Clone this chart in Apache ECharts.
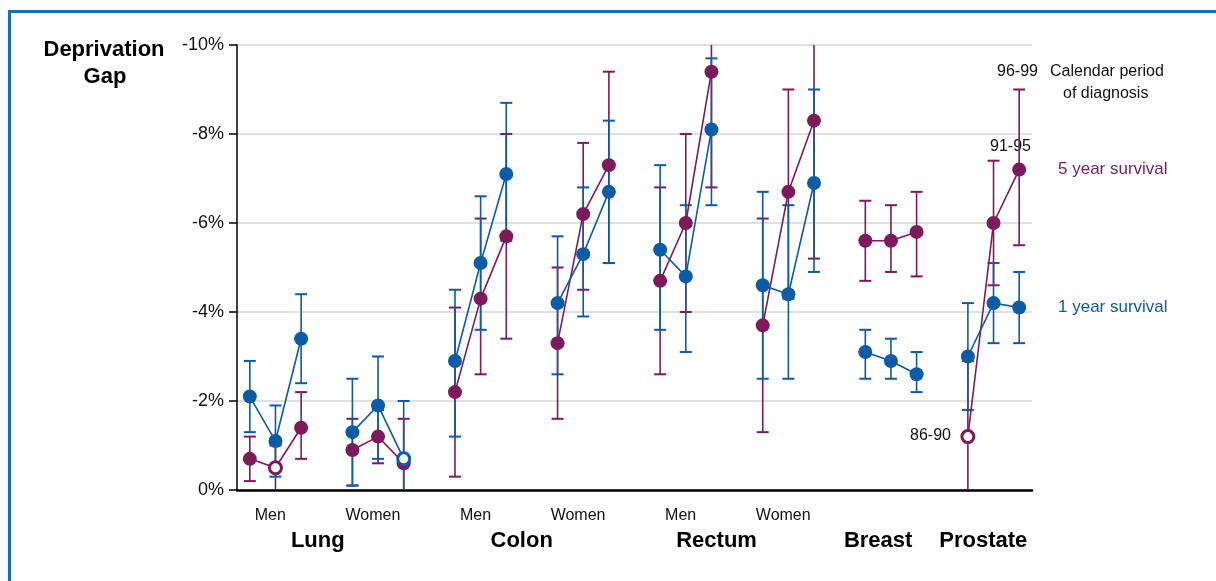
<!DOCTYPE html>
<html>
<head>
<meta charset="utf-8">
<script src="https://cdn.jsdelivr.net/npm/echarts@6/dist/echarts.min.js"></script>
<style>
html,body{margin:0;padding:0;background:#fff;}
#main{width:1216px;height:581px;}
</style>
</head>
<body>
<div id="main"></div>
<script>
// ---------- data ----------
const groups = ['Lung Men','Lung Women','Colon Men','Colon Women','Rectum Men','Rectum Women','Breast','Prostate'];
const periods = ['86-90','91-95','96-99'];
const sexLabels = ['Men','Women','Men','Women','Men','Women'];
const siteLabels = ['Lung','Colon','Rectum','Breast','Prostate'];
const yTicks = [-10,-8,-6,-4,-2,0];

// 1 year survival deprivation gap (%) per group x period
const oneYear    = [-2.1,-1.1,-3.4, -1.3,-1.9,-0.7, -2.9,-5.1,-7.1, -4.2,-5.3,-6.7, -5.4,-4.8,-8.1, -4.6,-4.4,-6.9, -3.1,-2.9,-2.6, -3.0,-4.2,-4.1];
const oneYearHi  = [-2.9,-1.9,-4.4, -2.5,-3.0,-2.0, -4.5,-6.6,-8.7, -5.7,-6.8,-8.3, -7.3,-6.4,-9.7, -6.7,-6.4,-9.0, -3.6,-3.4,-3.1, -4.2,-5.1,-4.9];
const oneYearLo  = [-1.3,-0.3,-2.4, -0.1,-0.7, 0.6, -1.2,-3.6,-5.6, -2.6,-3.9,-5.1, -3.6,-3.1,-6.4, -2.5,-2.5,-4.9, -2.5,-2.5,-2.2, -1.8,-3.3,-3.3];
const oneYearHollow = [5];

// 5 year survival deprivation gap (%)
const fiveYear   = [-0.7,-0.5,-1.4, -0.9,-1.2,-0.6, -2.2,-4.3,-5.7, -3.3,-6.2,-7.3, -4.7,-6.0,-9.4, -3.7,-6.7,-8.3, -5.6,-5.6,-5.8, -1.2,-6.0,-7.2];
const fiveYearHi = [-1.2,-1.0,-2.2, -1.6,-1.8,-1.6, -4.1,-6.1,-8.0, -5.0,-7.8,-9.4, -6.8,-8.0,-10.6, -6.1,-9.0,-10.6, -6.5,-6.4,-6.7, -2.9,-7.4,-9.0];
const fiveYearLo = [-0.2, 0.2,-0.7, -0.1,-0.6, 0.3, -0.3,-2.6,-3.4, -1.6,-4.5,-5.1, -2.6,-4.0,-6.8, -1.3,-4.3,-5.2, -4.7,-4.9,-4.8, 0.5,-4.6,-5.5];
const fiveYearHollow = [1, 21];

// ---------- style / layout ----------
const PURPLE = '#7D1A5B';
const BLUE = '#0B5BA6';
const FONT = 'Liberation Sans, Arial, sans-serif';
const SLOT = 4; // 3 periods + 1 gap per group
const sexPos = [0.8, 4.8, 8.8, 12.8, 16.8, 20.8];
const sitePos = [2.65, 10.6, 18.2, 24.5, 28.6];

function xOf(i){ return Math.floor(i/3)*SLOT + (i%3); }

function lineData(vals, hollow, color){
  const out = [];
  vals.forEach((v,i)=>{
    const item = {value:[xOf(i), v]};
    if (hollow.indexOf(i) >= 0) {
      item.itemStyle = {color:'#fff', borderColor:color, borderWidth:3};
      item.symbolSize = 12;
    }
    out.push(item);
    if (i%3 === 2) out.push({value:[xOf(i)+1, '-']});
  });
  return out;
}
function errData(lo, hi){
  return lo.map((l,i)=>[xOf(i), l, hi[i]]);
}
function errRender(color){
  return function(params, api){
    const x = api.value(0);
    const a = api.coord([x, api.value(1)]);
    const b = api.coord([x, api.value(2)]);
    const w = 6;
    const st = {stroke: color, lineWidth: 2};
    return {type:'group', children:[
      {type:'line', shape:{x1:a[0], y1:a[1], x2:b[0], y2:b[1]}, style:{stroke:color, lineWidth:1.6}},
      {type:'line', shape:{x1:a[0]-w, y1:a[1], x2:a[0]+w, y2:a[1]}, style:st},
      {type:'line', shape:{x1:b[0]-w, y1:b[1], x2:b[0]+w, y2:b[1]}, style:st}
    ]};
  };
}

const chart = echarts.init(document.getElementById('main'), null, {renderer:'canvas'});
const option = {
  animation:false,
  backgroundColor:'#fff',
  grid:{left:237, right:184, top:45, bottom:91, containLabel:false},
  xAxis:{type:'value', min:-0.5, max:30.5, splitLine:{show:false},
     axisLine:{show:true, onZero:false, lineStyle:{color:'#000', width:2.5}},
     axisTick:{show:false}, axisLabel:{show:false}},
  yAxis:{type:'value', inverse:true, min:-10, max:0, interval:2,
    axisLine:{show:true, onZero:false, lineStyle:{color:'#000', width:1.5}},
    axisTick:{show:true, length:8, lineStyle:{color:'#000', width:1.5}},
    axisLabel:{fontFamily:FONT, fontSize:18, color:'#111', margin:13, formatter:v=> v===0 ? '0%' : v+'%'},
    splitLine:{show:true, lineStyle:{color:'#d6d6d6', width:1.5}}
  },
  series:[
    {type:'custom', name:'5 yr CI', renderItem:errRender(PURPLE), data:errData(fiveYearLo, fiveYearHi), clip:true, z:2},
    {type:'custom', name:'1 yr CI', renderItem:errRender(BLUE), data:errData(oneYearLo, oneYearHi), clip:true, z:3},
    {type:'line', name:'5 year survival', data:lineData(fiveYear, fiveYearHollow, PURPLE), symbol:'circle', symbolSize:14,
     lineStyle:{color:PURPLE, width:1.6}, itemStyle:{color:PURPLE}, connectNulls:false, z:4},
    {type:'line', name:'1 year survival', data:lineData(oneYear, oneYearHollow, BLUE), symbol:'circle', symbolSize:14,
     lineStyle:{color:BLUE, width:1.6}, itemStyle:{color:BLUE}, connectNulls:false, z:5}
  ]
};
chart.setOption(option);

// text elements (category labels positioned through the x scale)
const graphics = [
  {type:'rect', left:7, top:9, shape:{x:0,y:0,width:1400,height:800}, style:{fill:'none', stroke:'#1a6db5', lineWidth:3}, silent:true},
  {type:'text', x:104, y:50, style:{text:'Deprivation', font:'bold 22px '+FONT, fill:'#000', align:'center', verticalAlign:'middle'}},
  {type:'text', x:105, y:77, style:{text:'Gap', font:'bold 22px '+FONT, fill:'#000', align:'center', verticalAlign:'middle'}},
  {type:'text', left:997, top:64, style:{text:'96-99', font:'16px '+FONT, fill:'#111'}},
  {type:'text', left:1050, top:64, style:{text:'Calendar period', font:'16px '+FONT, fill:'#111'}},
  {type:'text', left:1063, top:86, style:{text:'of diagnosis', font:'16px '+FONT, fill:'#111'}},
  {type:'text', left:990, top:139, style:{text:'91-95', font:'16px '+FONT, fill:'#111'}},
  {type:'text', left:910, top:428, style:{text:'86-90', font:'16px '+FONT, fill:'#111'}},
  {type:'text', left:1058, top:161, style:{text:'5 year survival', font:'17px '+FONT, fill:PURPLE}},
  {type:'text', left:1058, top:299, style:{text:'1 year survival', font:'17px '+FONT, fill:BLUE}}
];
sexPos.forEach((p,i)=>{
  const px = chart.convertToPixel({xAxisIndex:0}, p);
  graphics.push({type:'text', x:px, y:516, style:{text:sexLabels[i], font:'16px '+FONT, fill:'#111', align:'center', verticalAlign:'middle'}});
});
sitePos.forEach((p,i)=>{
  const px = chart.convertToPixel({xAxisIndex:0}, p);
  graphics.push({type:'text', x:px, y:541, style:{text:siteLabels[i], font:'bold 22px '+FONT, fill:'#000', align:'center', verticalAlign:'middle'}});
});
chart.setOption({graphic:graphics});
</script>
</body>
</html>
